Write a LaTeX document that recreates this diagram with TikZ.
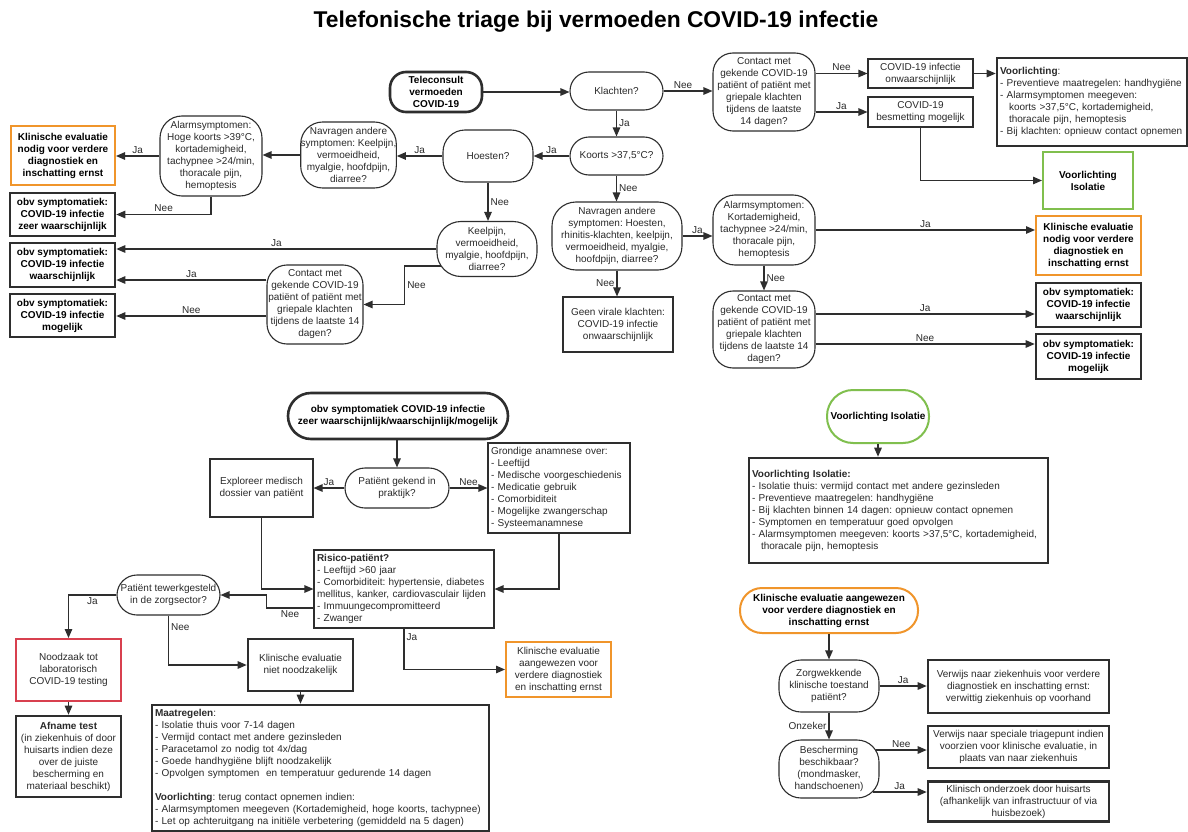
\documentclass[tikz,border=0pt]{standalone}
\usepackage{fontspec}
\setmainfont{Liberation Sans}
\usetikzlibrary{arrows.meta}
\definecolor{ln}{HTML}{2E2E2E}
\definecolor{tx}{HTML}{2A2A2A}
\definecolor{orng}{HTML}{F0952B}
\definecolor{grn}{HTML}{80BF4E}
\definecolor{rd}{HTML}{D8404F}
\tikzset{
  base/.style={font=\fontsize{10}{12}\selectfont\frenchspacing, text=tx, align=center, inner sep=1pt},
  sz/.style 2 args={minimum width=#1pt, minimum height=#2pt},
  box/.style={base, draw=ln, line width=1.1pt},
  pill/.style={box, rounded corners=#1pt},
  thickbox/.style={box, line width=2.6pt},
  leftbox/.style={align=left, text width=#1pt, inner xsep=3pt},
  bx/.style={font=\fontsize{10}{12}\selectfont\bfseries\frenchspacing, text=black},
  obox/.style={box, draw=orng, line width=2pt},
  gbox/.style={box, draw=grn, line width=2pt},
  rbox/.style={box, draw=rd, line width=2pt},
  arr/.style={draw=ln, line width=1.2pt, -{Triangle[length=9pt,width=7.5pt]}},
  lab/.style={font=\fontsize{10}{11}\selectfont, text=tx, inner sep=2pt},
}
\begin{document}
\begin{tikzpicture}[x=1pt,y=-1pt]
\fill[white] (0,0) rectangle (1188,832);
\useasboundingbox (0,0) rectangle (1188,832);

\node[font=\fontsize{22.8}{25}\selectfont\bfseries, text=black] (title) at (596,22) {Telefonische triage bij vermoeden COVID-19 infectie};

% ---------- top part ----------
\node[pill=16, line width=2.6pt, bx, sz={92}{40}] (tele) at (436,92) {Teleconsult\\vermoeden\\COVID-19};
\node[pill=19, sz={93}{38}] (klachten) at (616.5,91) {Klachten?};
\node[pill=20, sz={102}{78}] (contact1) at (764,92) {Contact met\\gekende COVID-19\\patiënt of patiënt met\\griepale klachten\\tijdens de laatste\\14 dagen?};
\node[box, sz={105}{29}] (onw) at (920.5,73.5) {COVID-19 infectie\\onwaarschijnlijk};
\node[box, sz={105}{30}] (besm) at (920.5,112) {COVID-19\\besmetting mogelijk};
\node[thickbox, leftbox=184, minimum height=88pt] (voorl) at (1092,102) {\textbf{Voorlichting}:\\- Preventieve maatregelen: handhygiëne\\- Alarmsymptomen meegeven:\\\hspace*{0.9em}koorts >37,5°C, kortademigheid,\\\hspace*{0.9em}thoracale pijn, hemoptesis\\- Bij klachten: opnieuw contact opnemen};
\node[gbox, bx, sz={90}{57}] (isol) at (1088,180.5) {Voorlichting\\Isolatie};

\node[pill=19, sz={93}{38}] (koorts) at (616.5,156) {Koorts >37,5°C?};
\node[pill=22, sz={90}{52}] (hoesten) at (488,156) {Hoesten?};
\node[pill=22, sz={94}{66}, inner sep=0pt] (nav1) at (348.5,155) {Navragen andere\\symptomen: Keelpijn,\\vermoeidheid,\\myalgie, hoofdpijn,\\diarree?};
\node[pill=22, sz={102}{80}] (alarm1) at (211,156) {Alarmsymptomen:\\Hoge koorts >39°C,\\kortademigheid,\\tachypnee >24/min,\\thoracale pijn,\\hemoptesis};
\node[obox, bx, sz={104}{59}] (klin1) at (63,155.5) {Klinische evaluatie\\nodig voor verdere\\diagnostiek en\\inschatting ernst};
\node[thickbox, bx, sz={105}{43}] (obvz1) at (62.5,214.5) {obv symptomatiek:\\COVID-19 infectie\\zeer waarschijnlijk};
\node[thickbox, bx, sz={105}{44}] (obvw1) at (62.5,265) {obv symptomatiek:\\COVID-19 infectie\\waarschijnlijk};
\node[thickbox, bx, sz={105}{43}] (obvm1) at (62.5,315.5) {obv symptomatiek:\\COVID-19 infectie\\mogelijk};
\node[pill=24, sz={100}{55}] (keel) at (487,249) {Keelpijn,\\vermoeidheid,\\myalgie, hoofdpijn,\\diarree?};
\node[pill=20, sz={96}{79}] (contact2) at (315,304.5) {Contact met\\gekende COVID-19\\patiënt of patiënt met\\griepale klachten\\tijdens de laatste 14\\dagen?};

\node[pill=24, sz={130}{68}] (nav2) at (617,236) {Navragen andere\\symptomen: Hoesten,\\rhinitis-klachten, keelpijn,\\vermoeidheid, myalgie,\\hoofdpijn, diarree?};
\node[box, sz={110}{55}] (geen) at (618,324.5) {Geen virale klachten:\\COVID-19 infectie\\onwaarschijnlijk};
\node[pill=22, sz={102}{70}] (alarm2) at (764,230) {Alarmsymptomen:\\Kortademigheid,\\tachypnee >24/min,\\thoracale pijn,\\hemoptesis};
\node[obox, bx, sz={105}{59}] (klin2) at (1088.5,245.5) {Klinische evaluatie\\nodig voor verdere\\diagnostiek en\\inschatting ernst};
\node[pill=20, sz={102}{77}] (contact3) at (764,329.5) {Contact met\\gekende COVID-19\\patiënt of patiënt met\\griepale klachten\\tijdens de laatste 14\\dagen?};
\node[thickbox, bx, sz={105}{44}] (obvw2) at (1088.5,305) {obv symptomatiek:\\COVID-19 infectie\\waarschijnlijk};
\node[thickbox, bx, sz={105}{45}] (obvm2) at (1088.5,356.5) {obv symptomatiek:\\COVID-19 infectie\\mogelijk};

% top connectors
\draw[arr] (tele.east) -- (tele.east -| klachten.west);
\draw[arr] (klachten.east) -- node[lab,above,pos=.4]{Nee} (klachten.east -| contact1.west);
\draw[arr] (klachten) -- node[lab,right]{Ja} (koorts);
\draw[arr] (onw.west -| contact1.east) -- node[lab,above]{Nee} (onw.west);
\draw[arr] (besm.west -| contact1.east) -- node[lab,above]{Ja} (besm.west);
\draw[arr] (onw.east) -- (onw.east -| voorl.west);
\draw[arr] (besm.south) |- (isol.west);
\draw[arr] (koorts.west) -- node[lab,above]{Ja} (koorts.west -| hoesten.east);
\draw[arr] (hoesten.west) -- node[lab,above]{Ja} (hoesten.west -| nav1.east);
\draw[arr] (nav1.west) -- (nav1.west -| alarm1.east);
\draw[arr] (alarm1.west) -- node[lab,above]{Ja} (alarm1.west -| klin1.east);
\draw[arr] (alarm1.south) |- node[lab,above,pos=.75]{Nee} (obvz1.east);
\draw[arr] (hoesten.south) -- node[lab,right]{Nee} (hoesten.south |- keel.north);
\draw[arr] (keel.west) -- node[lab,above]{Ja} (keel.west -| obvw1.east);
\coordinate (kn) at ([xshift=4.2pt,yshift=-17pt]keel.west);
\draw[arr] (kn) -- ++(-36,0) |- node[lab,right,pos=.25]{Nee} (contact2.east);
\coordinate (c2j) at ([yshift=24.5pt]contact2.west);
\coordinate (c2n) at ([yshift=-11.5pt]contact2.west);
\draw[arr] (c2j) -- node[lab,above]{Ja} (c2j -| obvw1.east);
\draw[arr] (c2n) -- node[lab,above]{Nee} (c2n -| obvm1.east);
\draw[arr] (koorts.south) -- node[lab,right]{Nee} (koorts.south |- nav2.north);
\draw[arr] (nav2.south) -- node[lab,left]{Nee} (nav2.south |- geen.north);
\draw[arr] (nav2.east) -- node[lab,above]{Ja} (nav2.east -| alarm2.west);
\draw[arr] (alarm2.east) -- node[lab,above]{Ja} (alarm2.east -| klin2.west);
\draw[arr] (alarm2.south) -- node[lab,right]{Nee} (alarm2.south |- contact3.north);
\coordinate (c3j) at ([yshift=15.5pt]contact3.east);
\coordinate (c3n) at ([yshift=-14.5pt]contact3.east);
\draw[arr] (c3j) -- node[lab,above]{Ja} (c3j -| obvw2.west);
\draw[arr] (c3n) -- node[lab,above]{Nee} (c3n -| obvm2.west);

% ---------- bottom left part ----------
\node[pill=23, line width=2.6pt, bx, sz={220}{46}] (obvstart) at (398,416) {obv symptomatiek COVID-19 infectie\\zeer waarschijnlijk/waarschijnlijk/mogelijk};
\node[pill=20, sz={104}{40}] (gekend) at (397,488) {Patiënt gekend in\\praktijk?};
\node[box, sz={103}{58}] (expl) at (261.5,488) {Exploreer medisch\\dossier van patiënt};
\node[box, leftbox=136, minimum height=90pt] (grond) at (559,488) {Grondige anamnese over:\\- Leeftijd\\- Medische voorgeschiedenis\\- Medicatie gebruik\\- Comorbiditeit\\- Mogelijke zwangerschap\\- Systeemanamnese};
\node[box, leftbox=174, minimum height=78pt] (risico) at (404,589) {\textbf{Risico-patiënt?}\\- Leeftijd >60 jaar\\- Comorbiditeit: hypertensie, diabetes\\mellitus, kanker, cardiovasculair lijden\\- Immuungecompromitteerd\\- Zwanger};
\node[pill=20, sz={103}{40}] (tewerk) at (168.5,595) {Patiënt tewerkgesteld\\in de zorgsector?};
\node[rbox, sz={105}{62}] (nood) at (68.5,670) {Noodzaak tot\\laboratorisch\\COVID-19 testing};
\node[thickbox, sz={105}{81}] (afname) at (68.5,756.5) {\textbf{Afname test}\\(in ziekenhuis of door\\huisarts indien deze\\over de juiste\\bescherming en\\materiaal beschikt)};
\node[thickbox, sz={105}{52}] (niet) at (300.5,665) {Klinische evaluatie\\niet noodzakelijk};
\node[thickbox, leftbox=331, minimum height=126pt] (maat) at (320.5,768) {\textbf{Maatregelen}:\\- Isolatie thuis voor 7-14 dagen\\- Vermijd contact met andere gezinsleden\\- Paracetamol zo nodig tot 4x/dag\\- Goede handhygiëne blijft noodzakelijk\\- Opvolgen symptomen~ en temperatuur gedurende 14 dagen\\[12pt]\textbf{Voorlichting}: terug contact opnemen indien:\\- Alarmsymptomen meegeven (Kortademigheid, hoge koorts, tachypnee)\\- Let op achteruitgang na initiële verbetering (gemiddeld na 5 dagen)};
\node[obox, sz={105}{55}] (klin3) at (558.5,669.5) {Klinische evaluatie\\aangewezen voor\\verdere diagnostiek\\en inschatting ernst};

\draw[arr] (gekend.north |- obvstart.south) -- (gekend.north);
\draw[arr] (gekend.west) -- node[lab,above]{Ja} (gekend.west -| expl.east);
\draw[arr] (gekend.east) -- node[lab,above]{Nee} (gekend.east -| grond.west);
\draw[arr] (expl.south) |- (risico.west);
\draw[arr] (grond.south) |- (risico.east);
\coordinate (rn) at ([yshift=-19pt]risico.west);
\draw[arr] (rn) -- node[lab,below]{Nee} ++(-47,0) |- (tewerk.east);
\draw[arr] (tewerk.west) -| node[lab,below,pos=.25]{Ja} (nood.north);
\draw[arr] (tewerk.south) |- node[lab,right,pos=.12]{Nee} (niet.west);
\draw[arr] (niet.south) -- (niet.south |- maat.north);
\draw[arr] (nood) -- (afname);
\draw[arr] (risico.south) |- node[lab,right,pos=.1]{Ja} (klin3.west);

% ---------- bottom right part ----------
\node[pill=26, gbox, bx, sz={102}{53}] (isol2) at (878,416.5) {Voorlichting Isolatie};
\node[thickbox, leftbox=293, minimum height=105pt] (isolbox) at (898.5,510.5) {\textbf{Voorlichting Isolatie:}\\- Isolatie thuis: vermijd contact met andere gezinsleden\\- Preventieve maatregelen: handhygiëne\\- Bij klachten binnen 14 dagen: opnieuw contact opnemen\\- Symptomen en temperatuur goed opvolgen\\- Alarmsymptomen meegeven: koorts >37,5°C, kortademigheid,\\\hspace*{0.9em}thoracale pijn, hemoptesis};
\node[pill=22, obox, bx, sz={178}{45}] (klin4) at (829,610.5) {Klinische evaluatie aangewezen\\voor verdere diagnostiek en\\inschatting ernst};
\node[pill=22, sz={100}{52}] (zorg) at (829,686) {Zorgwekkende\\klinische toestand\\patiënt?};
\node[thickbox, sz={181}{53}] (verw1) at (1018.5,686.5) {Verwijs naar ziekenhuis voor verdere\\diagnostiek en inschatting ernst:\\verwittig ziekenhuis op voorhand};
\node[pill=22, sz={100}{58}] (besch) at (829,769) {Bescherming\\beschikbaar?\\(mondmasker,\\handschoenen)};
\node[thickbox, sz={181}{42}] (verw2) at (1018.5,747) {Verwijs naar speciale triagepunt indien\\voorzien voor klinische evaluatie, in\\plaats van naar ziekenhuis};
\node[thickbox, sz={181}{40}] (huis) at (1018.5,801.5) {Klinisch onderzoek door huisarts\\(afhankelijk van infrastructuur of via\\huisbezoek)};

\draw[arr] (isol2.south) -- (isol2.south |- isolbox.north);
\draw[arr] (zorg.north |- klin4.south) -- (zorg.north);
\draw[arr] (zorg.east) -- node[lab,above]{Ja} (zorg.east -| verw1.west);
\draw[arr] (zorg.south) -- node[lab,left]{Onzeker} (zorg.south |- besch.north);
\coordinate (bn) at ([xshift=-3.6pt,yshift=19pt]besch.east);
\coordinate (bj) at ([xshift=-6.9pt,yshift=-23pt]besch.east);
\draw[arr] (bn) -- node[lab,above]{Nee} (bn -| verw2.west);
\draw[arr] (bj) -- node[lab,above]{Ja} (bj -| huis.west);
\end{tikzpicture}
\end{document}
